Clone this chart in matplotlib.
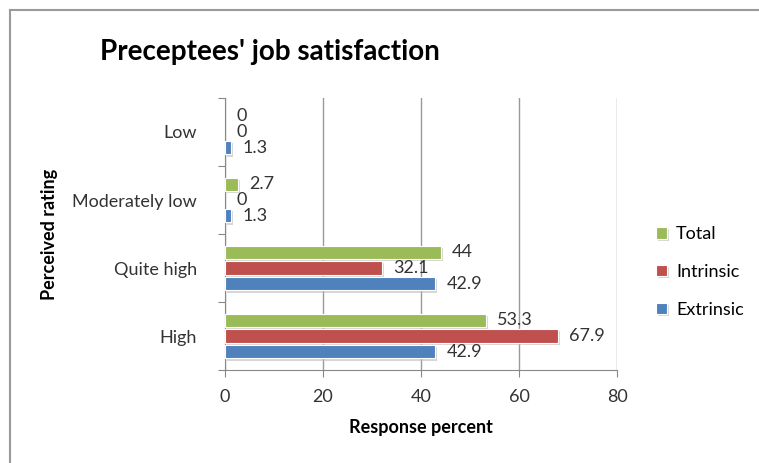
import matplotlib
matplotlib.use("Agg")
import matplotlib.pyplot as plt
import matplotlib.patheffects as pe
from matplotlib.lines import Line2D
import numpy as np

# data, bottom category first
categories = ["High", "Quite high", "Moderately low", "Low"]
extrinsic = [42.9, 42.9, 1.3, 1.3]
intrinsic = [67.9, 32.1, 0, 0]
total = [53.3, 44, 2.7, 0]
series_names = ["Extrinsic", "Intrinsic", "Total"]
x_ticks = [0, 20, 40, 60, 80]

COLORS = {"Extrinsic": "#4F81BD", "Intrinsic": "#C0504D", "Total": "#9BBB59"}
FONT = ["Lato", "DejaVu Sans"]

plt.rcParams["font.family"] = FONT

fig = plt.figure(figsize=(7.59, 4.63), dpi=100)
ax = fig.add_axes([225 / 759, 1 - 370 / 463, (617 - 225) / 759, (370 - 98) / 463])

y = np.arange(len(categories))
offsets = {"Extrinsic": -0.23, "Intrinsic": 0.0, "Total": 0.23}
values = {"Extrinsic": extrinsic, "Intrinsic": intrinsic, "Total": total}
shadow = [pe.SimplePatchShadow(offset=(1.5, -1.5), shadow_rgbFace="#bbbbbb", alpha=0.6), pe.Normal()]

handles = {}
for name in series_names:
    bars = ax.barh(y + offsets[name], values[name], height=0.2, color=COLORS[name],
                   edgecolor="white", linewidth=0.8, zorder=3)
    for b, v in zip(bars, values[name]):
        if v > 0:
            b.set_path_effects(shadow)
        else:
            b.set_linewidth(0)
    handles[name] = bars
    for yi, v in zip(y + offsets[name], values[name]):
        label = "{:g}".format(v)
        ax.annotate(label, (v, yi), xytext=(8, 0), textcoords="offset points",
                    va="center", ha="left", fontsize=13, color="#333333", zorder=4)

ax.set_xlim(0, 80)
ax.set_ylim(-0.5, len(categories) - 0.5)
ax.set_xticks(x_ticks)
ax.set_xticklabels([str(t) for t in x_ticks], fontsize=13, color="#333333")
ax.tick_params(axis="x", direction="out", length=5, color="#888888", pad=9)

# category boundaries as ticks, labels at centres
ax.set_yticks(np.arange(-0.5, len(categories), 1.0))
ax.set_yticklabels([])
ax.set_yticks(y, minor=True)
ax.set_yticklabels(categories, minor=True, fontsize=13, color="#333333")
ax.tick_params(axis="y", which="major", direction="out", length=5, color="#888888")
ax.tick_params(axis="y", which="minor", length=0, pad=20)

ax.grid(axis="x", color="#999999", linewidth=1, zorder=0)
ax.set_axisbelow(True)
for side in ["top", "right"]:
    ax.spines[side].set_visible(False)
for side in ["left", "bottom"]:
    ax.spines[side].set_color("#888888")

ax.set_xlabel("Response percent", fontsize=13, fontweight="bold", labelpad=10)
ax.set_ylabel("Perceived rating", fontsize=13, fontweight="bold", labelpad=0)
ax.yaxis.set_label_coords(-0.425, 0.5)

fig.text(0.355, 1 - 52 / 463, "Preceptees' job satisfaction", fontsize=20, fontweight="bold",
         ha="center", va="center")

fig.legend([handles["Total"], handles["Intrinsic"], handles["Extrinsic"]],
           ["Total", "Intrinsic", "Extrinsic"],
           loc="center left", bbox_to_anchor=(640 / 759, 1 - 272 / 463),
           frameon=False, fontsize=13, labelspacing=1.2, handlelength=0.6,
           handleheight=0.6, handletextpad=0.5)

# chart frame: left and top edges only
fig.add_artist(Line2D([10 / 759, 10 / 759], [0, 1 - 10 / 463], color="#9a9a9a", linewidth=1.5))
fig.add_artist(Line2D([10 / 759, 1], [1 - 10 / 463, 1 - 10 / 463], color="#9a9a9a", linewidth=1.5))

fig.savefig("out.png", dpi=100)
